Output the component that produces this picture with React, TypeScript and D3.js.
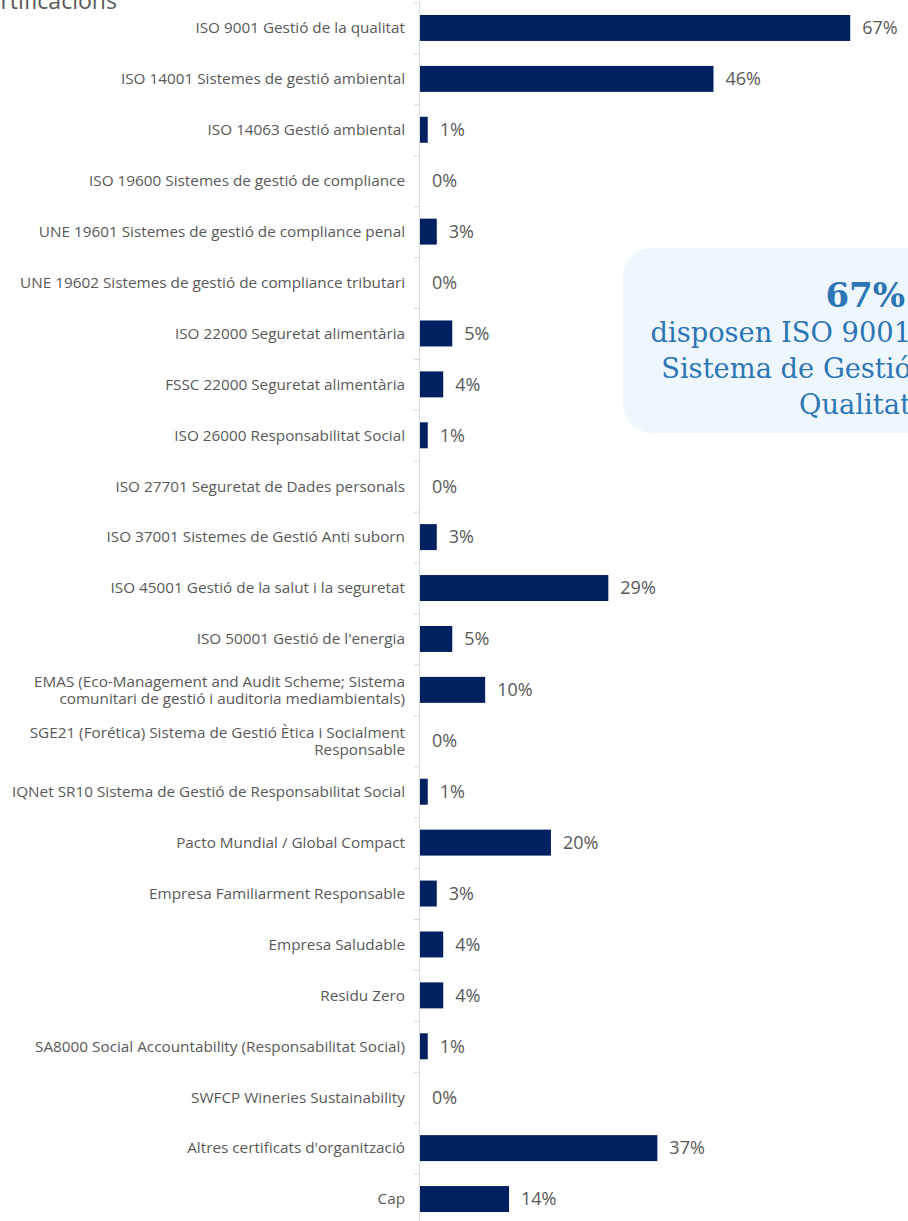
import React from "react";
import * as d3 from "d3";

const categories: string[][] = [
  ["ISO 9001 Gestió de la qualitat"],
  ["ISO 14001 Sistemes de gestió ambiental"],
  ["ISO 14063 Gestió ambiental"],
  ["ISO 19600 Sistemes de gestió de compliance"],
  ["UNE 19601 Sistemes de gestió de compliance penal"],
  ["UNE 19602 Sistemes de gestió de compliance tributari"],
  ["ISO 22000 Seguretat alimentària"],
  ["FSSC 22000 Seguretat alimentària"],
  ["ISO 26000 Responsabilitat Social"],
  ["ISO 27701 Seguretat de Dades personals"],
  ["ISO 37001 Sistemes de Gestió Anti suborn"],
  ["ISO 45001 Gestió de la salut i la seguretat"],
  ["ISO 50001 Gestió de l'energia"],
  ["EMAS (Eco-Management and Audit Scheme; Sistema", "comunitari de gestió i auditoria mediambientals)"],
  ["SGE21 (Forética) Sistema de Gestió Ètica i Socialment", "Responsable"],
  ["IQNet SR10 Sistema de Gestió de Responsabilitat Social"],
  ["Pacto Mundial / Global Compact"],
  ["Empresa Familiarment Responsable"],
  ["Empresa Saludable"],
  ["Residu Zero"],
  ["SA8000 Social Accountability (Responsabilitat Social)"],
  ["SWFCP Wineries Sustainability"],
  ["Altres certificats d'organització"],
  ["Cap"],
];

const values: number[] = [
  66.7, 45.5, 1.2, 0, 2.6, 0, 5.0, 3.6, 1.2, 0, 2.6, 29.2, 5.0, 10.1, 0, 1.2,
  20.3, 2.6, 3.6, 3.6, 1.2, 0, 36.8, 13.8,
];

const title = "Certificacions";
const calloutValue = "67%";
const calloutLines = ["disposen ISO 9001", "Sistema de Gestió", "Qualitat"];

const W = 908;
const H = 1221;

export default function App() {
  const ids = categories.map((_, i) => String(i));
  const y = d3
    .scaleBand<string>()
    .domain(ids)
    .range([2.5, 1224.5])
    .paddingInner(0.49)
    .paddingOuter(0.245);
  const x = d3.scaleLinear().domain([0, 100]).range([420, 420 + 645]);
  const step = y.step();
  const y0 = 2.5;

  const labelColor = "#595959";
  const barColor = "#002060";
  const calloutColor = "#2E75B6";

  return (
    <svg
      width={W}
      height={H}
      style={{ position: "absolute", left: 0, top: 0, display: "block" }}
      fontFamily="'Open Sans', sans-serif"
    >
      <rect width={W} height={H} fill="#ffffff" />
      <text x={-27} y={9} fontSize={23} fill={labelColor}>
        {title}
      </text>

      {/* callout */}
      <rect x={623} y={248} width={340} height={185} rx={30} ry={30} fill="#EEF7FD" />
      <text
        x={905}
        y={307}
        textAnchor="end"
        fontFamily="'DejaVu Serif', serif"
        fontWeight="bold"
        fontSize={34}
        fill={calloutColor}
      >
        {calloutValue}
      </text>
      {calloutLines.map((l, i) => (
        <text
          key={i}
          x={911}
          y={342 + i * 36}
          textAnchor="end"
          fontFamily="'DejaVu Serif', serif"
          fontSize={27.3}
          fill={calloutColor}
        >
          {l}
        </text>
      ))}

      {/* axis */}
      <line x1={419.5} x2={419.5} y1={y0} y2={H} stroke="#D9D9D9" strokeWidth={1} />
      {d3.range(categories.length + 1).map((i) => (
        <line
          key={i}
          x1={414}
          x2={420}
          y1={y0 + i * step + 0.5}
          y2={y0 + i * step + 0.5}
          stroke="#D9D9D9"
          strokeWidth={1}
        />
      ))}

      {categories.map((lines, i) => {
        const cy = (y(String(i)) as number) + y.bandwidth() / 2;
        const v = values[i];
        return (
          <g key={i}>
            {lines.map((l, j) => (
              <text
                key={j}
                x={405}
                y={cy + (j - (lines.length - 1) / 2) * 17}
                dy="0.35em"
                textAnchor="end"
                fontSize={15.3}
                fill={labelColor}
              >
                {l}
              </text>
            ))}
            {v > 0 && (
              <rect
                x={x(0)}
                y={y(String(i))}
                width={x(v) - x(0)}
                height={y.bandwidth()}
                fill={barColor}
              />
            )}
            <text
              x={x(v) + 12}
              y={cy}
              dy="0.35em"
              fontSize={18}
              fill={labelColor}
            >
              {Math.round(v) + "%"}
            </text>
          </g>
        );
      })}
    </svg>
  );
}
